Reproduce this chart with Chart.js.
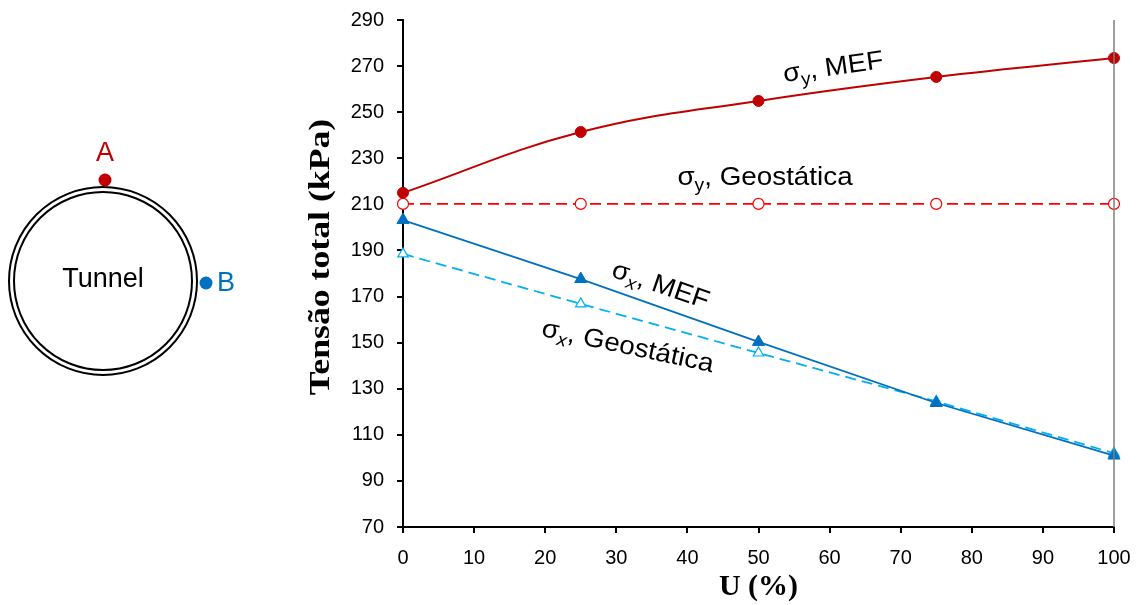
<!DOCTYPE html>
<html><head><meta charset="utf-8">
<script src="https://cdn.jsdelivr.net/npm/chart.js@4.4.0/dist/chart.umd.min.js"></script>
<style>html,body{margin:0;padding:0;background:#fff}#wrap{width:1137px;height:605px;position:relative}</style>
</head><body><div id="wrap"><canvas id="c" width="1137" height="605"></canvas></div>
<script>
const uValues = [0, 25, 50, 75, 100];
const sigmaY_MEF = [215, 241.4, 254.9, 265.3, 273.5];
const sigmaY_Geo = [210.2, 210.2, 210.2, 210.2, 210.2];
const sigmaX_MEF = [203.2, 177.6, 150.3, 123.8, 101.0];
const sigmaX_Geo = [188.5, 166.8, 145.5, 124.5, 102.0];
const xTicks = [0,10,20,30,40,50,60,70,80,90,100];
const yTicks = [70,90,110,130,150,170,190,210,230,250,270,290];

const pts = arr => uValues.map((u,i)=>({x:u,y:arr[i]}));
const SANS = '"Liberation Sans", Arial, sans-serif';
const SERIF = '"Liberation Serif", "Times New Roman", serif';

function drawSigma(ctx, cx, cy, angle, sub, rest, color, size){
  ctx.save();
  ctx.translate(cx, cy);
  ctx.rotate(angle*Math.PI/180);
  ctx.scale(1.07, 1);
  ctx.fillStyle = color;
  ctx.textBaseline = 'alphabetic';
  ctx.textAlign = 'left';
  const f1 = size+'px '+SANS;
  const f2 = (sub==='x'?'italic ':'') + Math.round(size*0.68)+'px '+SANS;
  ctx.font = f1; const w1 = ctx.measureText('σ').width;
  ctx.font = f2; const w2 = ctx.measureText(sub).width;
  ctx.font = f1; const w3 = ctx.measureText(rest).width;
  const total = w1+w2+w3;
  let x = -total/2; const base = size*0.35;
  ctx.font = f1; ctx.fillText('σ', x, base); x+=w1;
  ctx.font = f2; ctx.fillText(sub, x, base+size*0.22); x+=w2;
  ctx.font = f1; ctx.fillText(rest, x, base);
  ctx.restore();
}

const annot = {
  id:'annot',
  afterDraw(chart){
    const ctx = chart.ctx;
    const xs = chart.scales.x, ys = chart.scales.y;
    // right frame line at x=100
    ctx.save();
    ctx.strokeStyle = '#7f7f7f'; ctx.lineWidth = 1.5;
    ctx.beginPath(); ctx.moveTo(xs.getPixelForValue(100), ys.getPixelForValue(290)); ctx.lineTo(xs.getPixelForValue(100), ys.getPixelForValue(70)); ctx.stroke();
    ctx.restore();
    // y-axis title
    ctx.save();
    ctx.translate(321, 257);
    ctx.rotate(-Math.PI/2);
    ctx.scale(1.19, 1);
    ctx.font = 'bold 30px '+SERIF;
    ctx.fillStyle = '#000'; ctx.textAlign='center'; ctx.textBaseline='middle';
    ctx.fillText('Tensão total (kPa)', 0, 0);
    ctx.restore();
    // tunnel diagram
    ctx.save();
    ctx.strokeStyle = '#000'; ctx.lineWidth = 2;
    ctx.beginPath(); ctx.arc(103, 281, 94, 0, Math.PI*2); ctx.stroke();
    ctx.beginPath(); ctx.arc(103, 281, 89, 0, Math.PI*2); ctx.stroke();
    ctx.fillStyle = '#C00000';
    ctx.beginPath(); ctx.arc(105, 180, 6.5, 0, Math.PI*2); ctx.fill();
    ctx.fillStyle = '#0070C0';
    ctx.beginPath(); ctx.arc(206, 283, 6.5, 0, Math.PI*2); ctx.fill();
    ctx.textAlign='center'; ctx.textBaseline='middle';
    ctx.font = '27px '+SANS;
    ctx.fillStyle = '#C00000'; ctx.fillText('A', 105, 154);
    ctx.fillStyle = '#0070C0'; ctx.fillText('B', 226, 284);
    ctx.fillStyle = '#000'; ctx.fillText('Tunnel', 103, 280);
    ctx.restore();
    drawSigma(ctx, 833, 66, -8, 'y', ', MEF', '#000', 26);
    drawSigma(ctx, 765, 176, 0, 'y', ', Geostática', '#000', 26);
    drawSigma(ctx, 661, 284, 19, 'x', ', MEF', '#000', 26);
    drawSigma(ctx, 628, 345, 12, 'x', ', Geostática', '#000', 26);
  }
};

new Chart(document.getElementById('c'), {
  type:'line',
  data:{datasets:[
    {data:pts(sigmaY_MEF), borderColor:'#C00000', backgroundColor:'#C00000', borderWidth:2, tension:0.4, pointRadius:5.5, pointStyle:'circle', pointBorderWidth:1},
    {data:pts(sigmaY_Geo), borderColor:'#FF0000', backgroundColor:'#FFFFFF', borderWidth:1.8, borderDash:[11,6], tension:0, pointRadius:5.5, pointStyle:'circle', pointBorderWidth:1.2},
    {data:pts(sigmaX_MEF), borderColor:'#0070C0', backgroundColor:'#0070C0', borderWidth:1.8, tension:0, pointRadius:7, pointStyle:'triangle', pointBorderWidth:1},
    {data:pts(sigmaX_Geo), borderColor:'#00B0F0', backgroundColor:'#FFFFFF', borderWidth:1.8, borderDash:[11,6], tension:0, pointRadius:6, pointStyle:'triangle', pointBorderWidth:1.2}
  ]},
  options:{
    responsive:false, animation:false, clip:false,
    layout:{padding:{left:300, right:23, top:20, bottom:0}},
    plugins:{legend:{display:false}, tooltip:{enabled:false}},
    scales:{
      x:{type:'linear', min:0, max:100,
        afterBuildTicks:s=>{s.ticks = xTicks.map(v=>({value:v}));},
        afterFit:s=>{s.height = 78; s.paddingLeft = 0; s.paddingRight = 0;},
        border:{color:'#000', width:2},
        grid:{drawOnChartArea:false, drawTicks:true, tickLength:6, color:'#000', lineWidth:2},
        ticks:{color:'#000', font:{family:SANS, size:20}, padding:13, maxRotation:0, autoSkip:false},
        title:{display:true, text:'U (%)', color:'#000', font:{family:SERIF, size:30, weight:'bold'}, padding:{top:0,bottom:0}}
      },
      y:{type:'linear', min:70, max:290,
        afterBuildTicks:s=>{s.ticks = yTicks.map(v=>({value:v}));},
        afterFit:s=>{s.width = 103; s.paddingTop = 0; s.paddingBottom = 0;},
        border:{color:'#000', width:2},
        grid:{drawOnChartArea:false, drawTicks:true, tickLength:6, color:'#000', lineWidth:2},
        ticks:{color:'#000', font:{family:SANS, size:20}, padding:13, autoSkip:false},
        title:{display:false}
      }
    }
  },
  plugins:[annot]
});
</script></body></html>
